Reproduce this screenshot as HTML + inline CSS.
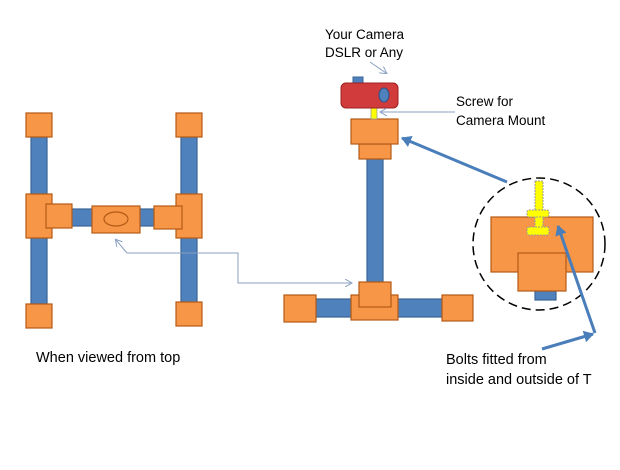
<!DOCTYPE html>
<html><head><style>body{margin:0;background:#fff}</style></head><body>
<svg width="620" height="465" xmlns="http://www.w3.org/2000/svg" font-family="Liberation Sans, sans-serif" font-size="13.5" fill="#000">
<defs>
<marker id="a" markerWidth="8" markerHeight="8" refX="6" refY="4" orient="auto" markerUnits="userSpaceOnUse"><path d="M0,0 L7,4 L0,8" fill="none" stroke="#8aa0c0" stroke-width="1"/></marker>
<marker id="b" markerWidth="12" markerHeight="12" refX="9" refY="6" orient="auto" markerUnits="userSpaceOnUse"><path d="M0,0 L10,6 L0,12 Z" fill="#4a7ebb"/></marker>
</defs>
<g stroke="#b35a17" stroke-width="1.2" fill="#f79646">
<rect x="31" y="137" width="16" height="167" fill="#4f81bd" stroke="#3a6496"/>
<rect x="181" y="137" width="16" height="167" fill="#4f81bd" stroke="#3a6496"/>
<rect x="70" y="209" width="110" height="17" fill="#4f81bd" stroke="#3a6496"/>
<rect x="26" y="113" width="26" height="24"/>
<rect x="176" y="113" width="26" height="24"/>
<rect x="26" y="304" width="26" height="24"/>
<rect x="176" y="302" width="26" height="24"/>
<rect x="26" y="194" width="26" height="44"/>
<rect x="176" y="194" width="26" height="44"/>
<rect x="46" y="204" width="26" height="24"/>
<rect x="154" y="206" width="28" height="23"/>
<rect x="92" y="206" width="48" height="27"/>
<ellipse cx="116" cy="219" rx="12" ry="7"/>
<rect x="367" y="159" width="16" height="123" fill="#4f81bd" stroke="#3a6496"/>
<rect x="316" y="299" width="126" height="18" fill="#4f81bd" stroke="#3a6496"/>
<rect x="284" y="295" width="32" height="27"/>
<rect x="442" y="295" width="31" height="26"/>
<rect x="351" y="295" width="47" height="25"/>
<rect x="359" y="282" width="32" height="25"/>
<rect x="359" y="144" width="32" height="15"/>
<rect x="351" y="119" width="47" height="25"/>
<rect x="535" y="291" width="21" height="9" fill="#4f81bd" stroke="#3a6496"/>
<rect x="491" y="217" width="102" height="55"/>
<rect x="518" y="253" width="48" height="38"/>
</g>
<rect x="371" y="108" width="6" height="11" fill="#ffff00" stroke="#999" stroke-width="0.8"/>
<rect x="353" y="77" width="10" height="7" fill="#4f81bd" stroke="#3a6496"/>
<rect x="341" y="83" width="57" height="25" rx="5" fill="#d23b3b" stroke="#9b2020"/>
<ellipse cx="384" cy="95" rx="5" ry="7" fill="#4f81bd" stroke="#2a4f80"/>
<g fill="#ffff00" stroke="#999" stroke-width="1" stroke-dasharray="2,1">
<rect x="535" y="181" width="8" height="50"/>
<rect x="527" y="210" width="22" height="7" rx="2"/>
<rect x="527" y="227" width="22" height="8" rx="2"/>
</g>
<circle cx="539" cy="244" r="66" fill="none" stroke="#000" stroke-width="1.5" stroke-dasharray="9,5"/>
<g fill="none" stroke="#8aa0c0" stroke-width="1">
<polyline points="127,253 238,253 238,283 351,283" marker-end="url(#a)"/>
<line x1="127" y1="253" x2="116" y2="240" marker-end="url(#a)"/>
<line x1="370" y1="62" x2="386" y2="73" marker-end="url(#a)"/>
<line x1="455" y1="112" x2="381" y2="112" marker-end="url(#a)"/>
</g>
<g stroke="#4a7ebb" stroke-width="3" fill="none">
<line x1="507" y1="182" x2="402" y2="138" marker-end="url(#b)"/>
<line x1="595" y1="333" x2="558" y2="226" marker-end="url(#b)"/>
<line x1="542" y1="349" x2="593" y2="334" marker-end="url(#b)"/>
</g>
<text x="325" y="39">Your Camera</text>
<text x="325" y="57">DSLR or Any</text>
<text x="456" y="106">Screw for</text>
<text x="456" y="125">Camera Mount</text>
<g font-size="14.5">
<text x="36" y="362">When viewed from top</text>
<text x="446" y="364">Bolts  fitted from</text>
<text x="446" y="384">inside and outside of T</text>
</g>
</svg>
</body></html>
